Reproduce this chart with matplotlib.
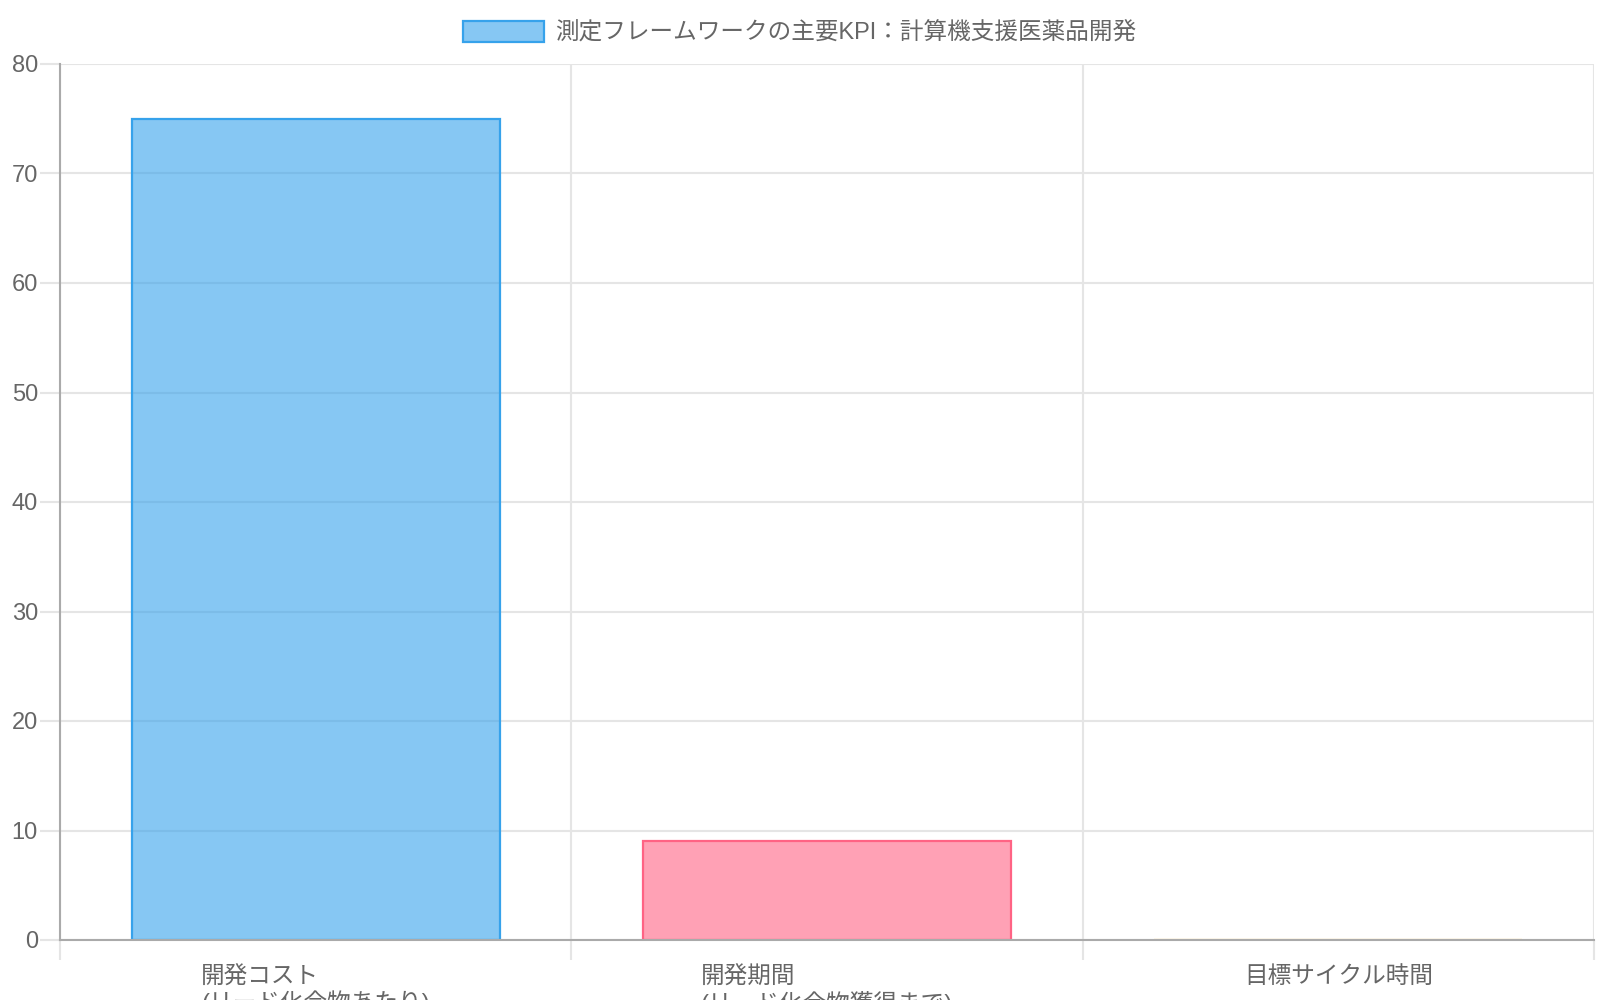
import matplotlib
matplotlib.use('Agg')
import matplotlib.pyplot as plt

plt.rcParams['font.family'] = ['Liberation Sans', 'Noto Sans CJK JP', 'DejaVu Sans']

categories = ['開発コスト\n(リード化合物あたり)', '開発期間\n(リード化合物獲得まで)', '目標サイクル時間']
values = [75, 9, 0]
fills = ['#36a2eb99', '#ff638499', '#ffce5699']
edges = ['#36a2eb', '#ff6384', '#ffce56']
legend_label = '測定フレームワークの主要KPI：計算機支援医薬品開発'
yticks = [0, 10, 20, 30, 40, 50, 60, 70, 80]

txt = '#666666'
grid = '#e5e5e5'
axis_c = '#aaaaaa'
fs = 17

fig = plt.figure(figsize=(16, 10), dpi=100)
ax = fig.add_axes([60/1600, 1 - 940/1000, 1534/1600, 876/1000])

x = list(range(len(categories)))
bars = ax.bar(x, values, width=0.72, color=fills, edgecolor=edges, linewidth=1.6, zorder=3)

ax.set_xlim(-0.5, len(categories) - 0.5)
ax.set_ylim(0, 80)
ax.set_yticks(yticks)
ax.set_yticklabels([str(v) for v in yticks])
ax.yaxis.grid(True, color=grid, linewidth=1.5, zorder=0)
ax.tick_params(axis='y', length=14.4, color=grid, width=1.5, labelsize=fs, labelcolor=txt, pad=1.5)

ax.set_xticks(x)
ax.set_xticklabels(categories, multialignment='left', linespacing=1.1)
ax.tick_params(axis='x', which='major', length=0, labelsize=fs, labelcolor=txt, pad=19)
ax.set_xticks([i - 0.5 for i in range(len(categories) + 1)], minor=True)
ax.xaxis.grid(True, which='minor', color=grid, linewidth=1.5, zorder=0)
ax.tick_params(axis='x', which='minor', length=14.4, color=grid, width=1.5)

for side in ['top', 'right']:
    ax.spines[side].set_visible(False)
for side in ['left', 'bottom']:
    ax.spines[side].set_color(axis_c)
    ax.spines[side].set_linewidth(1.5)
    ax.spines[side].set_zorder(4)

fig.legend(handles=[bars[0]], labels=[legend_label], loc='center', bbox_to_anchor=(0.5, 1 - 33/1000),
           frameon=False, fontsize=fs, labelcolor=txt, handlelength=3.4, handleheight=1.0, handletextpad=0.5)

fig.savefig('out.png', dpi=100)
